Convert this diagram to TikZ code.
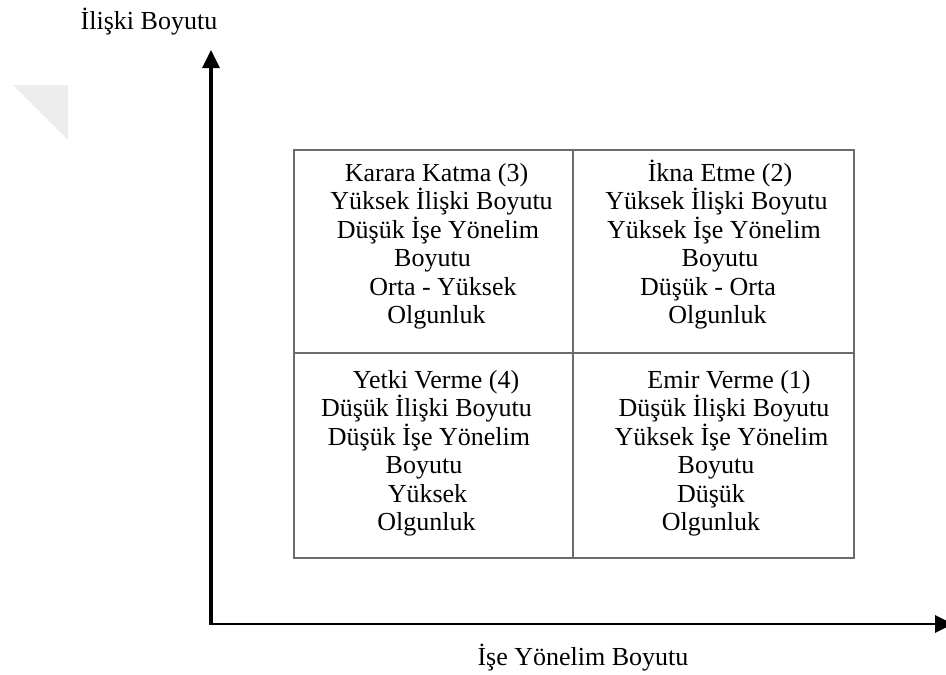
\documentclass[tikz,border=0pt]{standalone}
\usepackage{fontspec}
\setmainfont{Liberation Serif}
\usetikzlibrary{arrows.meta}
\newcommand{\topstrut}{\rule{0pt}{23pt}}
\begin{document}
\begin{tikzpicture}[x=1pt,y=-1pt,
  cell/.style={align=center,font=\fontsize{26pt}{28.5pt}\selectfont,inner sep=0pt,anchor=north},
  axislabel/.style={font=\fontsize{26pt}{28.5pt}\selectfont,inner sep=0pt,anchor=base},
  axis/.style={line width=3.4pt,-{Triangle[length=18pt,width=17pt]}},
  grid/.style={draw=black!58,line width=1.5pt}]
\useasboundingbox (0,0) rectangle (946,675);
\clip (0,0) rectangle (946,675);
% faint corner mark
\fill[black!7] (13,85) -- (68,85) -- (68,140) -- cycle;
% axes
\coordinate (origin) at (211,624);
\coordinate (ytip) at (211,50);
\coordinate (xtip) at (953,624);
\draw[axis] (origin) -- (ytip);
\draw[axis,line width=2.8pt] ([xshift=-1.7pt]origin) -- (xtip);
% axis titles
\node[axislabel] (ylab) at (149,29) {İlişki Boyutu};
\node[axislabel] (xlab) at (583,665) {İşe Yönelim Boyutu};
% quadrant grid
\draw[grid] (294,150) rectangle (854,558);
\draw[grid] (573,150) -- (573,558);
\draw[grid] (294,353) -- (854,353);
% quadrant texts (first baseline 23pt below the top anchor)
\node[cell] (q3) at (433.5,158) {\topstrut\hspace*{6pt}Karara Katma (3)\\\hspace*{16pt}Yüksek İlişki Boyutu\\\hspace*{9pt}Düşük İşe Yönelim\\\hspace*{-2pt}Boyutu\\\hspace*{19pt}Orta - Yüksek\\\hspace*{6pt}Olgunluk};
\node[cell] (q2) at (713.5,158) {\topstrut\hspace*{13pt}İkna Etme (2)\\\hspace*{6pt}Yüksek İlişki Boyutu\\\hspace*{1pt}Yüksek İşe Yönelim\\\hspace*{13pt}Boyutu\\\hspace*{-11pt}Düşük - Orta\\\hspace*{8pt}Olgunluk};
\node[cell] (q4) at (433.5,365) {\topstrut\hspace*{5pt}Yetki Verme (4)\\\hspace*{-14pt}Düşük İlişki Boyutu\\\hspace*{-9pt}Düşük İşe Yönelim\\\hspace*{-19pt}Boyutu\\\hspace*{-12pt}Yüksek\\\hspace*{-14pt}Olgunluk};
\node[cell] (q1) at (713.5,365) {\topstrut\hspace*{31pt}Emir Verme (1)\\\hspace*{21pt}Düşük İlişki Boyutu\\\hspace*{16pt}Yüksek İşe Yönelim\\\hspace*{5pt}Boyutu\\\hspace*{-5pt}Düşük\\\hspace*{-5pt}Olgunluk};
\end{tikzpicture}
\end{document}
